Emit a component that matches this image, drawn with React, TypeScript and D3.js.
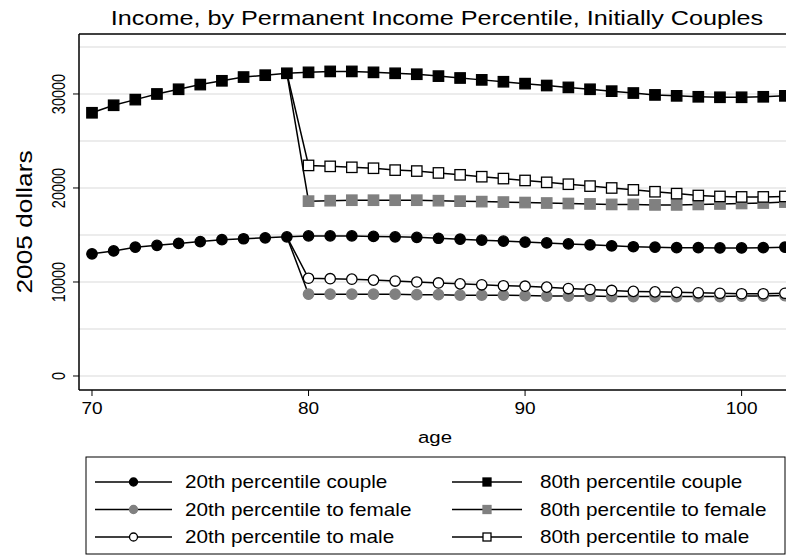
import React from "react";
import * as d3 from "d3";

const agesBefore = d3.range(70, 80);
const agesAfter = d3.range(80, 103);

const couple80 = [28000, 28800, 29400, 30000, 30500, 31000, 31400, 31800, 32000, 32200,
  32300, 32400, 32400, 32300, 32200, 32100, 31900, 31700, 31500, 31300, 31100, 30900, 30700, 30500, 30300, 30100, 29900, 29800, 29700, 29650, 29650, 29700, 29800];
const male80 = [22400, 22300, 22200, 22100, 21900, 21800, 21600, 21400, 21200, 21000, 20800, 20600, 20400, 20200, 20000, 19800, 19600, 19400, 19200, 19100, 19050, 19050, 19100];
const female80 = [18600, 18650, 18700, 18700, 18700, 18700, 18650, 18600, 18550, 18500, 18450, 18400, 18350, 18300, 18250, 18250, 18200, 18200, 18250, 18300, 18350, 18400, 18500];
const couple20 = [13000, 13300, 13700, 13900, 14100, 14300, 14500, 14600, 14700, 14800,
  14900, 14900, 14900, 14850, 14800, 14750, 14650, 14550, 14450, 14350, 14250, 14150, 14050, 13950, 13850, 13750, 13700, 13650, 13650, 13620, 13620, 13650, 13700];
const male20 = [10400, 10350, 10300, 10200, 10100, 10000, 9900, 9800, 9700, 9600, 9550, 9450, 9300, 9200, 9100, 9000, 8950, 8900, 8850, 8800, 8750, 8750, 8800];
const female20 = [8700, 8700, 8700, 8700, 8700, 8650, 8650, 8600, 8600, 8600, 8550, 8500, 8500, 8500, 8450, 8450, 8450, 8450, 8450, 8450, 8500, 8500, 8550];

const yTicks = [0, 10000, 20000, 30000];
const xTicks = [70, 80, 90, 100];
const grid = [0, 5000, 10000, 15000, 20000, 25000, 30000, 35000];

type S = { name: string; ages: number[]; vals: number[]; shape: "circle" | "square"; fill: string; stroke: string };

const allAges = [...agesBefore, ...agesAfter];
const series: S[] = [
  { name: "20th percentile couple", ages: allAges, vals: couple20, shape: "circle", fill: "#000", stroke: "#000" },
  { name: "80th percentile couple", ages: allAges, vals: couple80, shape: "square", fill: "#000", stroke: "#000" },
  { name: "20th percentile to female", ages: [79, ...agesAfter], vals: [couple20[9], ...female20], shape: "circle", fill: "#808080", stroke: "#808080" },
  { name: "80th percentile to female", ages: [79, ...agesAfter], vals: [couple80[9], ...female80], shape: "square", fill: "#808080", stroke: "#808080" },
  { name: "20th percentile to male", ages: [79, ...agesAfter], vals: [couple20[9], ...male20], shape: "circle", fill: "#fff", stroke: "#000" },
  { name: "80th percentile to male", ages: [79, ...agesAfter], vals: [couple80[9], ...male80], shape: "square", fill: "#fff", stroke: "#000" },
];

function Marker({ s, x, y, r = 5.2 }: { s: S; x: number; y: number; r?: number }) {
  if (s.shape === "circle")
    return <circle cx={x} cy={y} r={r} fill={s.fill} stroke={s.stroke} strokeWidth={1.3} />;
  return <rect x={x - r} y={y - r} width={2 * r} height={2 * r} fill={s.fill} stroke={s.stroke} strokeWidth={1.3} />;
}

function Wide({ x, y, sx, size, anchor = "start", children }: { x: number; y: number; sx: number; size: number; anchor?: string; children: React.ReactNode }) {
  return (
    <g transform={`translate(${x},${y}) scale(${sx},1)`}>
      <text textAnchor={anchor} fontSize={size}>{children}</text>
    </g>
  );
}

export default function App() {
  const W = 786, H = 555;
  const left = 79, right = 786, top = 34, bottom = 390;
  const x = d3.scaleLinear().domain([69.4, 102.05]).range([left, right]);
  const y = d3.scaleLinear().domain([-1490, 36380]).range([bottom, top]);
  const line = d3.line<[number, number]>().x(d => x(d[0])).y(d => y(d[1]));
  const font = "'Liberation Sans', Arial, sans-serif";

  return (
    <svg width={W} height={H} style={{ position: "absolute", left: 0, top: 0, fontFamily: font }}>
      <rect width={W} height={H} fill="#fff" />
      <Wide x={437} y={25} sx={1.26} size={20} anchor="middle">Income, by Permanent Income Percentile, Initially Couples</Wide>
      {grid.map(g => (
        <line key={g} x1={left} x2={right} y1={y(g)} y2={y(g)} stroke="#e6e6e6" strokeWidth={1.5} />
      ))}
      <defs>
        <clipPath id="pc"><rect x={left} y={top} width={right - left} height={bottom - top} /></clipPath>
      </defs>
      <g clipPath="url(#pc)">
        {series.map((s, i) => (
          <path key={"l" + i} d={line(s.ages.map((a, j) => [a, s.vals[j]] as [number, number])) || ""} fill="none" stroke="#000" strokeWidth={1.5} />
        ))}
        {series.map((s, i) => (
          <g key={"m" + i}>
            {s.ages.map((a, j) => !(i >= 2 && j === 0) ? (
              <Marker key={j} s={s} x={x(a)} y={y(s.vals[j])} />
            ) : null)}
          </g>
        ))}
      </g>
      <line x1={left} x2={left} y1={top} y2={bottom} stroke="#000" strokeWidth={1.5} />
      <line x1={left} x2={right} y1={top} y2={top} stroke="#000" strokeWidth={1.5} />
      <line x1={left} x2={right} y1={bottom} y2={bottom} stroke="#000" strokeWidth={1.5} />
      {yTicks.map(t => (
        <g key={t}>
          <line x1={left - 6} x2={left} y1={y(t)} y2={y(t)} stroke="#000" />
          <text transform={`translate(${left - 14},${y(t)}) rotate(-90) scale(1,1.25)`} textAnchor="middle" fontSize={14.5}>{t}</text>
        </g>
      ))}
      {xTicks.map(t => (
        <g key={t}>
          <line x1={x(t)} x2={x(t)} y1={bottom} y2={bottom + 6} stroke="#000" />
          <Wide x={x(t)} y={bottom + 24} sx={1.12} size={17} anchor="middle">{t}</Wide>
        </g>
      ))}
      <text transform={`translate(32,222) rotate(-90) scale(1,1.1)`} textAnchor="middle" fontSize={20} textLength={143} lengthAdjust="spacingAndGlyphs">2005 dollars</text>
      <Wide x={435} y={443} sx={1.2} size={17} anchor="middle">age</Wide>
      <rect x={86} y={457} width={699} height={97} fill="#fff" stroke="#000" />
      {series.map((s, i) => {
        const col = i % 2, row = Math.floor(i / 2);
        const ly = 482 + row * 27.5;
        const lx = col === 0 ? 95 : 452;
        const lw = col === 0 ? 77 : 70;
        return (
          <g key={"lg" + i}>
            <line x1={lx} x2={lx + lw} y1={ly} y2={ly} stroke="#000" strokeWidth={1.5} />
            <Marker s={s} x={lx + lw / 2} y={ly} r={4} />
            <Wide x={col === 0 ? 185 : 540} y={ly + 6} sx={1.15} size={18}>{s.name}</Wide>
          </g>
        );
      })}
    </svg>
  );
}
